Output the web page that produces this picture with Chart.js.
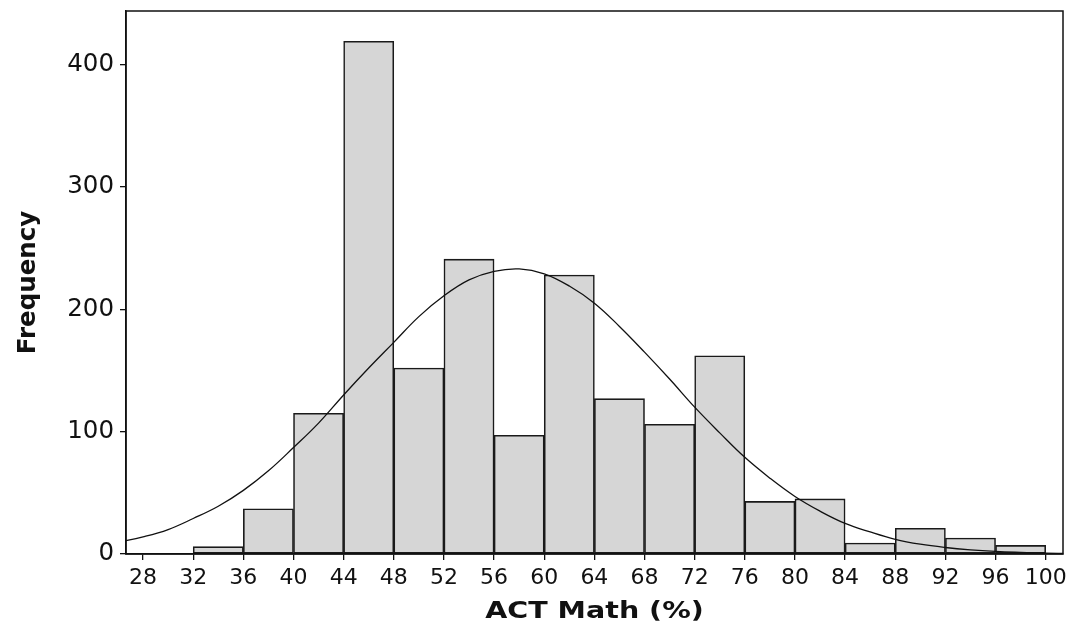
<!DOCTYPE html>
<html>
<head>
<meta charset="utf-8">
<script src="https://cdn.jsdelivr.net/npm/chart.js@4"></script>
<style>
    html, body { margin: 0; padding: 0; background: #fff; }
    #wrap { width: 1070px; height: 628px; }
</style>
</head>
<body>
<div id="wrap"><canvas id="hist"></canvas></div>
<script>
// bins of 4 points, left edges
const binStarts = [32, 36, 40, 44, 48, 52, 56, 60, 64, 68, 72, 76, 80, 84, 88, 92, 96];
const binWidth = 4;
const counts = [6, 37, 115, 419, 152, 241, 97, 228, 127, 106, 162, 43, 45, 9, 21, 13, 7];

// fitted normal curve
const curveX = [26, 28, 30, 32, 34, 36, 38, 40, 42, 44, 46, 48, 50, 52, 54, 56, 58, 60, 62, 64,
                66, 68, 70, 72, 74, 76, 78, 80, 82, 84, 86, 88, 90, 92, 94, 96, 98, 100, 102];
const curveY = [9.6, 14, 20, 29, 39, 52, 68, 87, 107, 130, 152, 173, 194, 211, 224, 231, 233, 229, 219, 205,
                186, 165, 143, 120, 99, 79, 62, 47, 35, 25, 18, 12, 8, 5.3, 3.4, 2.1, 1.3, 0.7, 0.4];

const xTicks = [28, 32, 36, 40, 44, 48, 52, 56, 60, 64, 68, 72, 76, 80, 84, 88, 92, 96, 100];
const yTicks = [0, 100, 200, 300, 400];

const barPoints = binStarts.map((s, i) => ({ x: s + binWidth / 2, y: counts[i] }));
const curvePoints = curveX.map((x, i) => ({ x: x, y: curveY[i] }));

const fam = 'DejaVu Sans, Verdana, sans-serif';

// box round the plot area + the wide x axis title
const frame = {
    id: 'frame',
    afterDatasetsDraw(chart) {
        const a = chart.chartArea;
        const ctx = chart.ctx;
        ctx.save();
        ctx.strokeStyle = '#111';
        ctx.lineWidth = 1.5;
        ctx.strokeRect(a.left, a.top, a.right - a.left, a.bottom - a.top);
        ctx.restore();
    },
    afterDraw(chart) {
        const a = chart.chartArea;
        const ctx = chart.ctx;
        ctx.save();
        ctx.fillStyle = '#111';
        ctx.font = 'bold 23px ' + fam;
        ctx.textAlign = 'center';
        ctx.textBaseline = 'alphabetic';
        ctx.translate((a.left + a.right) / 2, 618);
        ctx.scale(1.24, 1);
        ctx.fillText('ACT Math (%)', 0, 0);
        ctx.restore();
    }
};

new Chart(document.getElementById('hist'), {
    type: 'bar',
    data: {
        datasets: [
            {
                type: 'line',
                data: curvePoints,
                borderColor: '#111',
                borderWidth: 1.3,
                pointRadius: 0,
                tension: 0.4,
                fill: false,
                order: 0
            },
            {
                type: 'bar',
                data: barPoints,
                backgroundColor: '#d6d6d6',
                borderColor: '#1a1a1a',
                borderWidth: 1.6,
                borderSkipped: false,
                barPercentage: 1.0,
                categoryPercentage: 1.0,
                order: 1
            }
        ]
    },
    options: {
        responsive: true,
        maintainAspectRatio: false,
        animation: false,
        layout: { padding: { left: 0, top: 11, right: 7, bottom: 0 } },
        plugins: {
            legend: { display: false },
            tooltip: { enabled: false }
        },
        scales: {
            x: {
                type: 'linear',
                offset: false,
                min: 26.64,
                max: 101.38,
                afterBuildTicks: (scale) => { scale.ticks = xTicks.map(v => ({ value: v })); },
                afterFit: (scale) => {
                    scale.height = 74;
                    scale.paddingLeft = 0;
                    scale.paddingRight = 0;
                },
                grid: { offset: false, drawOnChartArea: false, color: '#111', tickLength: 6, lineWidth: 1.3 },
                border: { display: true, color: '#111', width: 1.5 },
                ticks: { color: '#111', font: { family: fam, size: 22 }, padding: 5, maxRotation: 0, autoSkip: false }
            },
            y: {
                min: 0,
                max: 443.8,
                afterBuildTicks: (scale) => { scale.ticks = yTicks.map(v => ({ value: v })); },
                afterFit: (scale) => {
                    scale.width = 126;
                    scale.paddingTop = 0;
                    scale.paddingBottom = 0;
                },
                grid: { drawOnChartArea: false, color: '#111', tickLength: 6, lineWidth: 1.3 },
                border: { display: true, color: '#111', width: 1.5 },
                ticks: { color: '#111', font: { family: fam, size: 24.5 }, padding: 6 },
                title: {
                    display: true,
                    text: 'Frequency',
                    color: '#111',
                    font: { family: fam, size: 24.5, weight: 'bold' },
                    padding: { top: 14, bottom: 0 }
                }
            }
        }
    },
    plugins: [frame]
});
</script>
</body>
</html>
